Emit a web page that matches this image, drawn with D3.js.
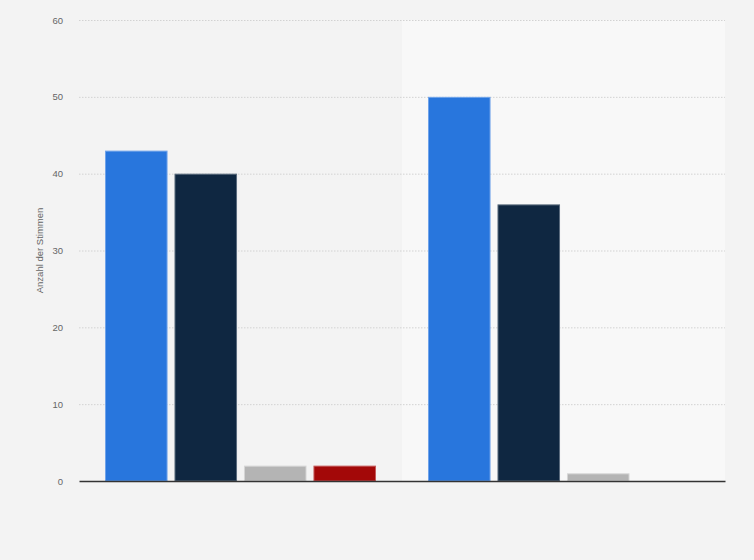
<!DOCTYPE html>
<html>
<head>
<meta charset="utf-8">
<script src="https://cdn.jsdelivr.net/npm/d3@7/dist/d3.min.js"></script>
<style>
  html, body { margin: 0; padding: 0; background: #f3f3f3; }
  svg { display: block; }
  text { font-family: "Liberation Sans", Arial, sans-serif; }
</style>
</head>
<body>
<svg id="chart" width="754" height="560"></svg>
<script>
// Data
const categories = ["Gruppe 1", "Gruppe 2"];
const seriesNames = ["Serie A", "Serie B", "Serie C", "Serie D"];
const seriesA = [43, 50];
const seriesB = [40, 36];
const seriesC = [2, 1];
const seriesD = [2, 0];
const yTicks = [0, 10, 20, 30, 40, 50, 60];
const yLabel = "Anzahl der Stimmen";

const colors = ["#2876dd", "#0f2741", "#b4b4b4", "#a30808"];
const strokes = ["#6fa3ea", "#5a6b7d", "#d6d6d6", "#c55a5a"];

const seriesValues = [seriesA, seriesB, seriesC, seriesD];
const table = categories.map((c, i) => ({
  category: c,
  values: seriesNames.map((s, j) => ({ series: s, idx: j, value: seriesValues[j][i] }))
}));

const svg = d3.select("#chart");
const margin = { left: 79, right: 29, top: 20, bottom: 79 };
const W = 754, H = 560;
const iw = W - margin.left - margin.right;
const ih = H - margin.top - margin.bottom;

const g = svg.append("g").attr("transform", `translate(${margin.left},${margin.top})`);

const x0 = d3.scaleBand().domain(categories).range([0, iw]).padding(0);
const x1 = d3.scaleBand().domain(seriesNames)
  .range([26, x0.bandwidth() - 26]).paddingInner(0.1).paddingOuter(0);
const y = d3.scaleLinear().domain([0, 60]).range([ih, 0]);

// alternating band background
g.selectAll("rect.band").data(categories.filter((d, i) => i % 2 === 1)).enter()
  .append("rect").attr("class", "band")
  .attr("x", d => x0(d)).attr("y", 0)
  .attr("width", x0.bandwidth()).attr("height", ih)
  .attr("fill", "#f8f8f8");

// grid
const yAxis = d3.axisLeft(y).tickValues(yTicks).tickSize(-iw).tickPadding(16);
const ya = g.append("g").call(yAxis);
ya.select(".domain").remove();
ya.selectAll(".tick line")
  .attr("stroke", "#d2d2d2").attr("stroke-dasharray", "1.5,1.5").attr("stroke-width", 1);
ya.selectAll(".tick text")
  .attr("fill", "#666").attr("font-size", "9.5px");
ya.selectAll(".tick").filter(d => d === 0).select("line").remove();

// bars
const groups = g.selectAll("g.grp").data(table).enter().append("g")
  .attr("class", "grp")
  .attr("transform", d => `translate(${x0(d.category)},0)`);

groups.selectAll("rect").data(d => d.values.filter(v => v.value > 0)).enter()
  .append("rect")
  .attr("x", d => x1(d.series) + 0.5)
  .attr("width", x1.bandwidth() - 1)
  .attr("y", d => y(d.value) + 0.5)
  .attr("height", d => y(0) - y(d.value) - 0.5)
  .attr("fill", d => colors[d.idx])
  .attr("stroke", d => strokes[d.idx])
  .attr("stroke-width", 1);

// x axis line
const xAxis = d3.axisBottom(x0).tickSize(0).tickFormat(() => "");
const xa = g.append("g").attr("transform", `translate(0,${ih})`).call(xAxis);
xa.select(".domain").attr("stroke", "#333").attr("stroke-width", 1.5);

// y label
svg.append("text")
  .attr("transform", `translate(43,${margin.top + ih / 2}) rotate(-90)`)
  .attr("text-anchor", "middle")
  .attr("fill", "#666")
  .attr("font-size", "9.5px")
  .text(yLabel);
</script>
</body>
</html>
